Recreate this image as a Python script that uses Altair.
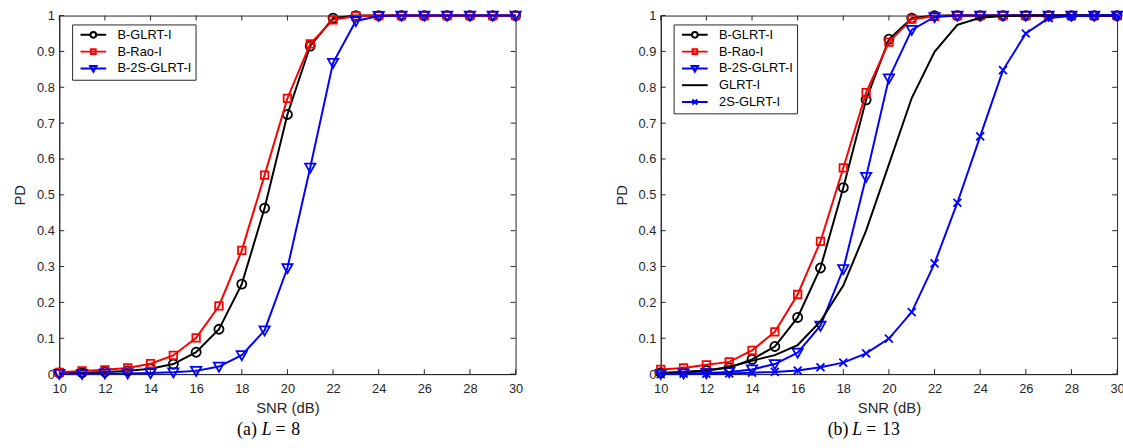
import altair as alt
import pandas as pd

# ---------------- data ----------------
snr = list(range(10, 31))

# (a) L = 8
a_b_glrt = [0.003, 0.004, 0.006, 0.009, 0.015, 0.028, 0.061, 0.125, 0.251, 0.463, 0.724, 0.915, 0.993, 1.0,
            1.0, 1.0, 1.0, 1.0, 1.0, 1.0, 1.0]
a_b_rao = [0.005, 0.009, 0.012, 0.017, 0.029, 0.052, 0.101, 0.19, 0.345, 0.555, 0.769, 0.921, 0.988, 0.999,
           1.0, 1.0, 1.0, 1.0, 1.0, 1.0, 1.0]
a_b_2s = [0.001, 0.001, 0.002, 0.002, 0.003, 0.005, 0.009, 0.021, 0.053, 0.122, 0.296, 0.576, 0.868, 0.985,
          0.999, 1.0, 1.0, 1.0, 1.0, 1.0, 1.0]

# (b) L = 13
b_b_glrt = [0.004, 0.006, 0.01, 0.018, 0.041, 0.077, 0.158, 0.296, 0.52, 0.765, 0.934, 0.993, 1.0, 1.0,
            1.0, 1.0, 1.0, 1.0, 1.0, 1.0, 1.0]
b_b_rao = [0.013, 0.017, 0.026, 0.034, 0.066, 0.118, 0.222, 0.37, 0.575, 0.785, 0.926, 0.99, 0.998, 1.0,
           1.0, 1.0, 1.0, 1.0, 1.0, 1.0, 1.0]
b_b_2s = [0.001, 0.002, 0.003, 0.006, 0.013, 0.028, 0.06, 0.135, 0.293, 0.55, 0.825, 0.96, 0.996, 1.0,
          1.0, 1.0, 1.0, 1.0, 1.0, 1.0, 1.0]
b_glrt = [0.002, 0.005, 0.01, 0.02, 0.037, 0.053, 0.081, 0.147, 0.247, 0.4, 0.585, 0.77, 0.899, 0.974,
          0.994, 0.999, 1.0, 1.0, 1.0, 1.0, 1.0]
b_2s_glrt = [0.0, 0.001, 0.001, 0.002, 0.004, 0.006, 0.01, 0.019, 0.032, 0.058, 0.099, 0.173, 0.309, 0.478,
             0.663, 0.848, 0.95, 0.993, 0.999, 1.0, 1.0]

x_ticks = [10, 12, 14, 16, 18, 20, 22, 24, 26, 28, 30]
y_ticks = [0, 0.1, 0.2, 0.3, 0.4, 0.5, 0.6, 0.7, 0.8, 0.9, 1.0]

names_a = ["B-GLRT-I", "B-Rao-I", "B-2S-GLRT-I"]
names_b = ["B-GLRT-I", "B-Rao-I", "B-2S-GLRT-I", "GLRT-I", "2S-GLRT-I"]

# ---------------- style ----------------
W, H = 462, 363
FONT = "Liberation Sans"
SERIF = "Liberation Serif"
AX = "#262626"

COLORS = {"B-GLRT-I": "#000000", "B-Rao-I": "#ff0000", "B-2S-GLRT-I": "#0000ff",
          "GLRT-I": "#000000", "2S-GLRT-I": "#0000ff"}

# marker paths for data points (unit = 4 px with size 64)
MARK = {
    "B-GLRT-I": "M-1.15,0A1.15,1.15,0,1,0,1.15,0A1.15,1.15,0,1,0,-1.15,0Z",
    "B-Rao-I": "M-0.95,-0.95H0.95V0.95H-0.95Z",
    "B-2S-GLRT-I": "M-1.3,-1L1.3,-1L0,1.3Z",
    "GLRT-I": None,
    "2S-GLRT-I": "M-1,-1L1,1M-1,1L1,-1",
}
# legend symbols: line + marker (unit = 8 px with size 256)
LEG = {
    "B-GLRT-I": "M-2.6,0H-0.575M0.575,0H2.6M-0.575,0A0.575,0.575,0,1,0,0.575,0A0.575,0.575,0,1,0,-0.575,0Z",
    "B-Rao-I": "M-2.6,0H2.6M-0.475,-0.475H0.475V0.475H-0.475Z",
    "B-2S-GLRT-I": "M-2.6,0H2.6M-0.65,-0.5L0.65,-0.5L0,0.65Z",
    "GLRT-I": "M-2.6,0H2.6",
    "2S-GLRT-I": "M-2.6,0H2.6M-0.5,-0.5L0.5,0.5M-0.5,0.5L0.5,-0.5",
}

xs = alt.Scale(domain=[10, 30], nice=False, zero=False)
ys = alt.Scale(domain=[0, 1], nice=False)
XT = "SNR (dB)"
YT = "PD"

x_axis = alt.Axis(values=x_ticks, ticks=False, grid=False, labelPadding=9, titlePadding=5,
                  domainColor=AX, labelColor=AX, titleColor=AX, labelFont=FONT, titleFont=FONT,
                  labelFontSize=13, titleFontSize=15, titleFontWeight="normal", labelFlush=False)
y_axis = alt.Axis(values=y_ticks, format="~g", ticks=False, grid=False, labelPadding=5, titlePadding=9,
                  domainColor=AX, labelColor=AX, titleColor=AX, labelFont=FONT, titleFont=FONT,
                  labelFontSize=13, titleFontSize=15, titleFontWeight="normal", labelFlush=False)


def panel(names, values, cap_parts):
    layers = []
    # inward ticks on all four sides
    xt = pd.DataFrame({"v": x_ticks})
    yt = pd.DataFrame({"v": y_ticks})
    X = alt.X("v:Q", scale=xs, axis=x_axis, title=XT)
    Y = alt.Y("v:Q", scale=ys, axis=y_axis, title=YT)
    layers.append(alt.Chart(xt).mark_rule(color=AX, strokeWidth=1).encode(
        x=X, y=alt.value(H), y2=alt.value(H - 5)))
    layers.append(alt.Chart(xt).mark_rule(color=AX, strokeWidth=1).encode(
        x=X, y=alt.value(0), y2=alt.value(5)))
    layers.append(alt.Chart(yt).mark_rule(color=AX, strokeWidth=1).encode(
        y=Y, x=alt.value(0), x2=alt.value(5)))
    layers.append(alt.Chart(yt).mark_rule(color=AX, strokeWidth=1).encode(
        y=Y, x=alt.value(W), x2=alt.value(W - 5)))

    # series: line then markers, in plotting order
    for name, vals in zip(names, values):
        df = pd.DataFrame({"snr": snr, "pd": vals})
        enc = dict(x=alt.X("snr:Q", scale=xs, axis=x_axis, title=XT),
                   y=alt.Y("pd:Q", scale=ys, axis=y_axis, title=YT))
        layers.append(alt.Chart(df).mark_line(color=COLORS[name], strokeWidth=2).encode(**enc))
        if MARK[name]:
            layers.append(alt.Chart(df).mark_point(shape=MARK[name], size=64, filled=False,
                                                   color=COLORS[name], strokeWidth=1.8,
                                                   opacity=1).encode(**enc))

    # legend layer (invisible marks, visible legend)
    leg = alt.Legend(orient="none", legendX=13, legendY=9, title=None, strokeColor=AX,
                     fillColor="white", padding=4, labelFont=FONT, labelFontSize=13,
                     labelColor="#000000", symbolStrokeWidth=2, symbolOffset=11,
                     labelOffset=18, rowPadding=3, cornerRadius=0, symbolOpacity=1)
    ldf = pd.DataFrame({"series": names, "snr": [10] * len(names), "pd": [0.0] * len(names)})
    layers.append(alt.Chart(ldf).mark_point(opacity=0, size=256, filled=False, strokeWidth=2).encode(
        x=alt.X("snr:Q", scale=xs, axis=x_axis, title=XT),
        y=alt.Y("pd:Q", scale=ys, axis=y_axis, title=YT),
        color=alt.Color("series:N", scale=alt.Scale(domain=names, range=[COLORS[n] for n in names]),
                        legend=leg, sort=names),
        shape=alt.Shape("series:N", scale=alt.Scale(domain=names, range=[LEG[n] for n in names]),
                        legend=leg, sort=names),
    ))

    # caption "(a) L = 8"
    cy = H + 57
    for txt, xpos, al, st in cap_parts:
        layers.append(alt.Chart(pd.DataFrame({"t": [txt]})).mark_text(
            font=SERIF, fontSize=18, fontStyle=st, align=al, baseline="middle", color="#000000"
        ).encode(text="t:N", x=alt.value(xpos), y=alt.value(cy)))

    return alt.layer(*layers).properties(width=W, height=H)


cap_a = [("(a)", 200, "right", "normal"), ("L", 205, "left", "italic"),
         ("=", 219, "left", "normal"), ("8", 235, "left", "normal")]
cap_b = [("(b)", 190, "right", "normal"), ("L", 194, "left", "italic"),
         ("=", 208, "left", "normal"), ("13", 224, "left", "normal")]

left = panel(names_a, [a_b_glrt, a_b_rao, a_b_2s], cap_a)
right = panel(names_b, [b_b_glrt, b_b_rao, b_b_2s, b_glrt, b_2s_glrt], cap_b)

chart = alt.hconcat(left, right, spacing=89).resolve_scale(
    color="independent", shape="independent"
).resolve_legend(color="independent", shape="independent").properties(
    padding={"left": 12, "top": 4, "right": -4, "bottom": 0},
    background="white",
).configure_view(stroke=AX, strokeWidth=1)

chart.save("out.html", embed_options={"renderer": "svg", "actions": False})
